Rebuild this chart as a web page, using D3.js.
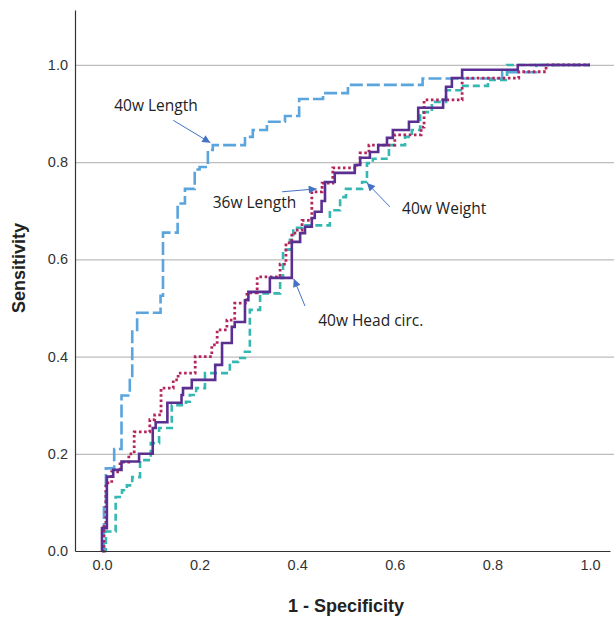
<!DOCTYPE html>
<html>
<head>
<meta charset="utf-8">
<script src="https://cdn.jsdelivr.net/npm/d3@7/dist/d3.min.js"></script>
<style>
body { margin: 0; background: #fff; }
</style>
</head>
<body>
<svg id="chart" width="614" height="617"></svg>
<script>
// ROC curves, each point = [1 - specificity, sensitivity] at the top of a riser
var length40 = [[0, 0], [0.004, 0.09], [0.008, 0.17], [0.025, 0.21], [0.04, 0.32], [0.057, 0.36],
    [0.062, 0.455], [0.072, 0.49], [0.12, 0.525], [0.125, 0.655], [0.155, 0.715], [0.17, 0.745],
    [0.19, 0.785], [0.2, 0.79], [0.217, 0.825], [0.227, 0.835], [0.293, 0.852], [0.309, 0.866],
    [0.338, 0.883], [0.375, 0.895], [0.404, 0.93], [0.453, 0.942], [0.504, 0.959], [0.657, 0.972],
    [0.82, 0.985], [0.89, 1.0], [1, 1]];

var weight40 = [[0, 0], [0.008, 0.04], [0.028, 0.111], [0.041, 0.125], [0.051, 0.135], [0.062, 0.152],
    [0.078, 0.187], [0.1, 0.222], [0.117, 0.253], [0.143, 0.3], [0.172, 0.307], [0.18, 0.321],
    [0.193, 0.335], [0.211, 0.366], [0.262, 0.389], [0.279, 0.397], [0.293, 0.41], [0.303, 0.496],
    [0.324, 0.53], [0.365, 0.562], [0.371, 0.62], [0.385, 0.64], [0.392, 0.665], [0.41, 0.67],
    [0.467, 0.701], [0.488, 0.728], [0.5, 0.745], [0.533, 0.759], [0.543, 0.798], [0.555, 0.807],
    [0.588, 0.835], [0.621, 0.852], [0.635, 0.866], [0.652, 0.903], [0.676, 0.924], [0.705, 0.948],
    [0.74, 0.957], [0.791, 0.969], [0.83, 1.0], [1, 1]];

var length36 = [[0, 0], [0.004, 0.05], [0.008, 0.14], [0.02, 0.163], [0.037, 0.183], [0.055, 0.2],
    [0.066, 0.245], [0.098, 0.27], [0.108, 0.28], [0.121, 0.335], [0.146, 0.352], [0.156, 0.366],
    [0.191, 0.4], [0.225, 0.424], [0.236, 0.455], [0.256, 0.475], [0.272, 0.51], [0.297, 0.531],
    [0.318, 0.564], [0.365, 0.59], [0.377, 0.634], [0.389, 0.654], [0.4, 0.66], [0.41, 0.68],
    [0.43, 0.739], [0.451, 0.757], [0.473, 0.788], [0.518, 0.794], [0.529, 0.819], [0.547, 0.835],
    [0.6, 0.856], [0.654, 0.872], [0.66, 0.928], [0.738, 0.973], [0.854, 0.986], [0.91, 1.0], [1, 1]];

var head40 = [[0, 0], [0, 0.047], [0.01, 0.153], [0.023, 0.167], [0.04, 0.184], [0.076, 0.2],
    [0.104, 0.253], [0.11, 0.265], [0.134, 0.305], [0.163, 0.321], [0.166, 0.335], [0.184, 0.352],
    [0.232, 0.383], [0.246, 0.428], [0.266, 0.461], [0.272, 0.471], [0.293, 0.516], [0.3, 0.533],
    [0.344, 0.562], [0.389, 0.636], [0.406, 0.654], [0.416, 0.667], [0.43, 0.685], [0.436, 0.698],
    [0.45, 0.72], [0.457, 0.759], [0.477, 0.778], [0.518, 0.794], [0.529, 0.809], [0.549, 0.821],
    [0.566, 0.835], [0.584, 0.85], [0.596, 0.866], [0.629, 0.883], [0.648, 0.912], [0.699, 0.928],
    [0.705, 0.955], [0.717, 0.973], [0.738, 0.99], [0.852, 1.0], [1, 1]];

var xTicks = [0, 0.2, 0.4, 0.6, 0.8, 1.0];
var yTicks = [0, 0.2, 0.4, 0.6, 0.8, 1.0];

var curveNames = ["40w Length", "40w Weight", "36w Length", "40w Head circ."];

// callouts: text anchor and arrow in data space
var notes = [
    { label: "40w Length", tx: 0.025, ty: 0.905, from: [0.146, 0.886], to: [0.222, 0.84] },
    { label: "36w Length", tx: 0.227, ty: 0.705, from: [0.369, 0.739], to: [0.44, 0.745] },
    { label: "40w Weight", tx: 0.615, ty: 0.694, from: [0.59, 0.708], to: [0.543, 0.757] },
    { label: "40w Head circ.", tx: 0.443, ty: 0.462, from: [0.416, 0.504], to: [0.393, 0.56] }
];

var svg = d3.select('#chart');
var W = +svg.attr('width');
var margin = { left: 75, top: 10, right: 4, bottom: 66 };

var x = d3.scaleLinear().domain([-0.0553, 1.041]).range([margin.left, 610]);
var y = d3.scaleLinear().domain([0, 1.113]).range([551, margin.top]);

//gridlines
svg.append('g')
    .attr('transform', 'translate(' + margin.left + ',0)')
    .call(d3.axisLeft(y).tickValues(yTicks.slice(1)).tickSize(-(W - margin.left)).tickFormat(''))
    .call(function(g) {
        g.select('.domain').remove();
        g.selectAll('line').attr('stroke', '#bdbdbd').attr('stroke-width', 1.2);
    });

var line = d3.line()
    .x(function(d) { return x(d[0]); })
    .y(function(d) { return y(d[1]); })
    .curve(d3.curveStepAfter);

var series = [
    { data: length40, color: '#5aa5dd', dash: '13,4', width: 2.6 },
    { data: weight40, color: '#35b7b2', dash: '7,4', width: 2.6 },
    { data: length36, color: '#b3245c', dash: '2.6,2.6', width: 2.8 },
    { data: head40, color: '#5b2e91', dash: null, width: 2.6 }
];

svg.append('g')
    .selectAll('path')
    .data(series)
    .enter()
    .append('path')
    .attr('d', function(d) { return line(d.data); })
    .attr('fill', 'none')
    .attr('stroke', function(d) { return d.color; })
    .attr('stroke-width', function(d) { return d.width; })
    .attr('stroke-dasharray', function(d) { return d.dash; })
    .append('title')
    .text(function(d, i) { return curveNames[i]; });

// axes
var xAxis = svg.append('g')
    .attr('transform', 'translate(0,551)')
    .call(d3.axisBottom(x).tickValues(xTicks).tickSize(0).tickPadding(9).tickFormat(d3.format('.1f')));
var yAxis = svg.append('g')
    .attr('transform', 'translate(' + margin.left + ',0)')
    .call(d3.axisLeft(y).tickValues(yTicks).tickSize(0).tickPadding(7).tickFormat(d3.format('.1f')));

[xAxis, yAxis].forEach(function(g) {
    g.select('.domain').attr('stroke', '#333').attr('stroke-width', 1.2);
    g.selectAll('text')
        .attr('font-family', 'Liberation Sans, Arial, sans-serif')
        .attr('font-size', 14.5)
        .attr('fill', '#333');
});

svg.append('text')
    .attr('x', 346)
    .attr('y', 612)
    .attr('text-anchor', 'middle')
    .attr('font-family', 'Liberation Sans, Arial, sans-serif')
    .attr('font-weight', 'bold')
    .attr('font-size', 18)
    .attr('fill', '#222')
    .text('1 - Specificity');

svg.append('text')
    .attr('transform', 'translate(25,268) rotate(-90)')
    .attr('text-anchor', 'middle')
    .attr('font-family', 'Liberation Sans, Arial, sans-serif')
    .attr('font-weight', 'bold')
    .attr('font-size', 18)
    .attr('fill', '#222')
    .text('Sensitivity');

// arrow head
svg.append('defs').append('marker')
    .attr('id', 'head')
    .attr('viewBox', '0 0 10 10')
    .attr('refX', 10)
    .attr('refY', 5)
    .attr('markerUnits', 'userSpaceOnUse')
    .attr('markerWidth', 9)
    .attr('markerHeight', 8)
    .attr('orient', 'auto')
    .append('path')
    .attr('d', 'M0,0 L10,5 L0,10 z')
    .attr('fill', '#4472c4');

var ann = svg.append('g');
ann.selectAll('line')
    .data(notes)
    .enter()
    .append('line')
    .attr('x1', function(d) { return x(d.from[0]); })
    .attr('y1', function(d) { return y(d.from[1]); })
    .attr('x2', function(d) { return x(d.to[0]); })
    .attr('y2', function(d) { return y(d.to[1]); })
    .attr('stroke', '#4472c4')
    .attr('stroke-width', 1)
    .attr('marker-end', 'url(#head)');

ann.selectAll('text')
    .data(notes)
    .enter()
    .append('text')
    .attr('x', function(d) { return x(d.tx); })
    .attr('y', function(d) { return y(d.ty); })
    .attr('font-family', 'Open Sans, sans-serif')
    .attr('font-size', 15.5)
    .attr('fill', '#222')
    .text(function(d) { return d.label; });
</script>
</body>
</html>
